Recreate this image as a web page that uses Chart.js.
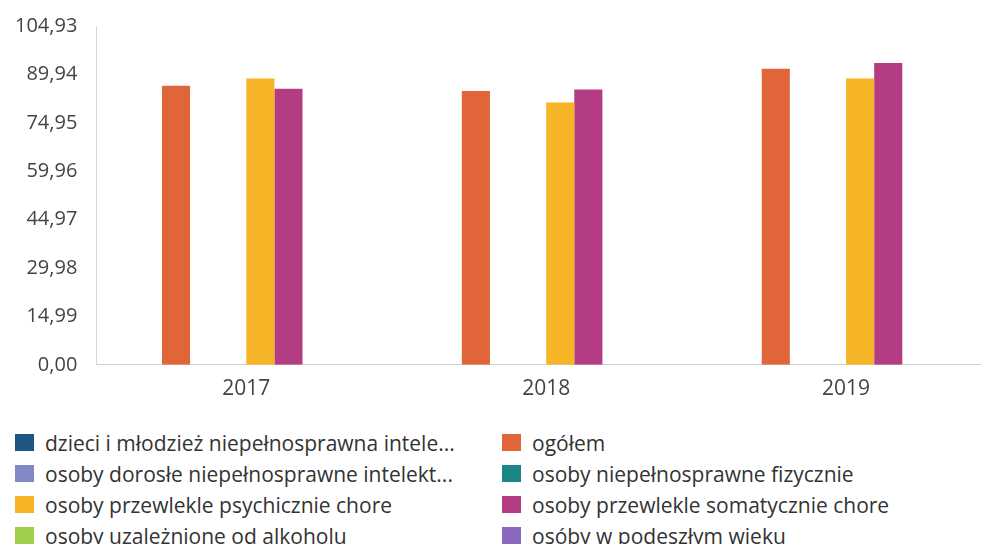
<!DOCTYPE html>
<html>
<head>
<meta charset="utf-8">
<script src="https://cdn.jsdelivr.net/npm/chart.js@4/dist/chart.umd.min.js"></script>
<style>
  html, body { margin: 0; padding: 0; background: #fff; width: 981px; height: 544px; overflow: hidden; }
  #wrap { position: absolute; left: -6px; top: -5px; width: 1006px; height: 411px; }
  #legend {
    position: absolute; left: 15px; top: 427px;
    display: grid; grid-template-columns: 487px auto; grid-auto-rows: 31px;
    font-family: "Open Sans", sans-serif; font-size: 21px; color: #333;
  }
  .item { display: flex; align-items: center; white-space: nowrap; }
  .box { width: 19px; height: 17px; margin-right: 11px; }
</style>
</head>
<body>
<div id="wrap"><canvas id="chart"></canvas></div>
<div id="legend"></div>
<script>
const years = ["2017", "2018", "2019"];
const yTicks = [0, 14.99, 29.98, 44.97, 59.96, 74.95, 89.94, 104.93];

const seriesNames = [
  "dzieci i młodzież niepełnosprawna intele...",
  "ogółem",
  "osoby dorosłe niepełnosprawne intelekt...",
  "osoby niepełnosprawne fizycznie",
  "osoby przewlekle psychicznie chore",
  "osoby przewlekle somatycznie chore",
  "osoby uzależnione od alkoholu",
  "osóby w podeszłym wieku"
];
const seriesColors = ["#1e5683", "#e0663a", "#8088c6", "#1b8587", "#f5b526", "#b33c83", "#9fcd4c", "#8a6ac0"];

const dzieci = [null, null, null];
const ogolem = [86.4, 84.8, 91.7];
const dorosle = [null, null, null];
const fizycznie = [null, null, null];
const psychicznie = [88.7, 81.2, 88.7];
const somatycznie = [85.5, 85.3, 93.5];
const uzaleznione = [null, null, null];
const podeszly = [null, null, null];

const seriesData = [dzieci, ogolem, dorosle, fizycznie, psychicznie, somatycznie, uzaleznione, podeszly];

const fmt = v => v.toFixed(2).replace(".", ",");

new Chart(document.getElementById("chart"), {
  type: "bar",
  data: {
    labels: years,
    datasets: seriesNames.map((name, i) => ({
      label: name,
      data: seriesData[i],
      backgroundColor: seriesColors[i],
      borderWidth: 0,
      categoryPercentage: 0.75,
      barPercentage: 1.0
    }))
  },
  options: {
    responsive: true,
    maintainAspectRatio: false,
    animation: false,
    layout: { padding: { left: 2, right: 4, top: 4, bottom: 0 } },
    plugins: { legend: { display: false }, tooltip: { enabled: false } },
    scales: {
      x: {
        grid: { display: false },
        border: { color: "#cfcfcf" },
        ticks: { color: "#444", font: { family: "Open Sans", size: 21 }, padding: 4 }
      },
      y: {
        min: 0,
        max: 104.93,
        afterBuildTicks: axis => { axis.ticks = yTicks.map(v => ({ value: v })); },
        grid: { display: false, drawTicks: false },
        border: { color: "#d6d6d6", dash: [2, 2] },
        ticks: { color: "#444", font: { family: "Open Sans", size: 20 }, padding: 19, callback: v => fmt(v) }
      }
    }
  }
});

const legend = document.getElementById("legend");
seriesNames.forEach((name, i) => {
  const item = document.createElement("div");
  item.className = "item";
  const box = document.createElement("span");
  box.className = "box";
  box.style.background = seriesColors[i];
  const txt = document.createElement("span");
  txt.textContent = name;
  item.appendChild(box);
  item.appendChild(txt);
  legend.appendChild(item);
});
</script>
</body>
</html>
